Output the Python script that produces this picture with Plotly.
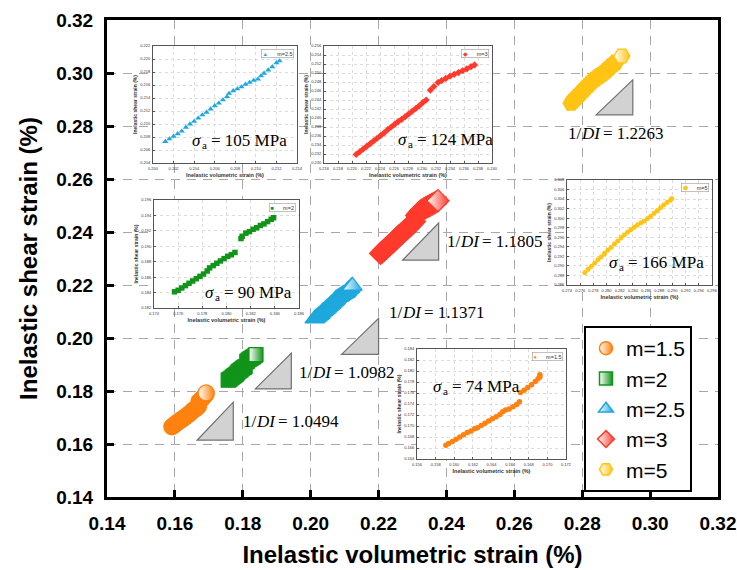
import plotly.graph_objects as go

# ---------------- data ----------------
names = ["m=1.5", "m=2", "m=2.5", "m=3", "m=5"]

x_m15 = [0.1591, 0.1594, 0.1598, 0.1602, 0.1606, 0.1610, 0.1614, 0.1618, 0.1622, 0.1625,
         0.1629, 0.1633, 0.1637, 0.1641, 0.1645, 0.1649, 0.1652, 0.1655, 0.1659, 0.1663,
         0.1667, 0.1670, 0.1671, 0.1675, 0.1679, 0.1683, 0.1687, 0.1690, 0.1692, 0.1692]
y_m15 = [0.1665, 0.1668, 0.1672, 0.1676, 0.1680, 0.1684, 0.1688, 0.1691, 0.1695, 0.1697,
         0.1701, 0.1705, 0.1709, 0.1713, 0.1717, 0.1721, 0.1726, 0.1729, 0.1731, 0.1735,
         0.1739, 0.1744, 0.1761, 0.1765, 0.1770, 0.1775, 0.1781, 0.1786, 0.1789, 0.1793]

x_m2 = [0.1757, 0.1760, 0.1763, 0.1766, 0.1769, 0.1772, 0.1775, 0.1778, 0.1781, 0.1784,
        0.1786, 0.1789, 0.1792, 0.1795, 0.1798, 0.1801, 0.1804, 0.1807, 0.1812, 0.1813,
        0.1816, 0.1819, 0.1822, 0.1825, 0.1828, 0.1831, 0.1834, 0.1837, 0.1839]
y_m2 = [0.1841, 0.1843, 0.1846, 0.1849, 0.1852, 0.1855, 0.1858, 0.1861, 0.1864, 0.1868,
        0.1872, 0.1875, 0.1878, 0.1881, 0.1884, 0.1887, 0.1889, 0.1892, 0.1910, 0.1913,
        0.1917, 0.1919, 0.1922, 0.1924, 0.1927, 0.1929, 0.1932, 0.1935, 0.1937]

x_m25 = [0.2012, 0.2016, 0.2020, 0.2024, 0.2028, 0.2032, 0.2036, 0.2040, 0.2044, 0.2048,
         0.2052, 0.2056, 0.2060, 0.2064, 0.2068, 0.2072, 0.2074, 0.2078, 0.2082, 0.2086,
         0.2090, 0.2094, 0.2098, 0.2102, 0.2105, 0.2108, 0.2112, 0.2116, 0.2120, 0.2123]
y_m25 = [0.2073, 0.2077, 0.2081, 0.2085, 0.2089, 0.2095, 0.2100, 0.2104, 0.2109, 0.2114,
         0.2118, 0.2123, 0.2128, 0.2132, 0.2137, 0.2142, 0.2147, 0.2151, 0.2154, 0.2157,
         0.2161, 0.2164, 0.2167, 0.2169, 0.2174, 0.2178, 0.2183, 0.2188, 0.2194, 0.2197]

x_m3 = [0.2206, 0.2211, 0.2216, 0.2221, 0.2226, 0.2231, 0.2236, 0.2241, 0.2246, 0.2251,
        0.2256, 0.2261, 0.2266, 0.2271, 0.2276, 0.2281, 0.2286, 0.2291, 0.2296, 0.2301,
        0.2306, 0.2312, 0.2317, 0.2323, 0.2328, 0.2334, 0.2340, 0.2346, 0.2352, 0.2358,
        0.2364, 0.2370, 0.2375]
y_m3 = [0.2319, 0.2325, 0.2331, 0.2337, 0.2343, 0.2349, 0.2355, 0.2361, 0.2367, 0.2374,
        0.2380, 0.2386, 0.2392, 0.2397, 0.2403, 0.2409, 0.2415, 0.2421, 0.2427, 0.2434,
        0.2440, 0.2462, 0.2470, 0.2479, 0.2483, 0.2488, 0.2493, 0.2497, 0.2501, 0.2505,
        0.2509, 0.2514, 0.2518]

x_m5 = [0.2767, 0.2772, 0.2777, 0.2782, 0.2787, 0.2792, 0.2797, 0.2802, 0.2807, 0.2812,
        0.2817, 0.2822, 0.2827, 0.2832, 0.2837, 0.2842, 0.2847, 0.2852, 0.2857, 0.2862,
        0.2867, 0.2872, 0.2877, 0.2882, 0.2887, 0.2892, 0.2897, 0.2899, 0.2917]
y_m5 = [0.2886, 0.2893, 0.2899, 0.2906, 0.2913, 0.2919, 0.2926, 0.2933, 0.2939, 0.2946,
        0.2952, 0.2959, 0.2965, 0.2971, 0.2976, 0.2981, 0.2986, 0.2990, 0.2994, 0.2999,
        0.3004, 0.3010, 0.3016, 0.3022, 0.3028, 0.3033, 0.3038, 0.3041, 0.3064]

di_values = ["1.0494", "1.0982", "1.1371", "1.1805", "1.2263"]
sigma_values = ["74", "90", "105", "124", "166"]

main_ticks = [0.14, 0.16, 0.18, 0.20, 0.22, 0.24, 0.26, 0.28, 0.30, 0.32]

# inset axis ranges
inset_x_ranges = [[0.156, 0.172], [0.174, 0.186], [0.200, 0.214], [0.216, 0.240], [0.274, 0.296]]
inset_y_ranges = [[0.164, 0.184], [0.182, 0.196], [0.204, 0.222], [0.230, 0.256], [0.286, 0.308]]

# slope triangles (bottom-left x, right x) and (bottom y, top y), data units
tri_x = [[0.1666, 0.1772], [0.1837, 0.1943], [0.2091, 0.2200], [0.2271, 0.2377], [0.2841, 0.2949]]
tri_y = [[0.1615, 0.1758], [0.1808, 0.1943], [0.1938, 0.2074], [0.2294, 0.2434], [0.2842, 0.2974]]

# ---------------- styles ----------------
colors = ["#FF8210", "#12941A", "#1EA8DD", "#FF3A2C", "#FFC414"]
symbols = ["circle", "square", "triangle-up", "diamond", "hexagon2"]
glyphs = ["●", "■", "▲", "◆", "⬢"]
main_sizes = [16, 14, 17, 17, 16]
xs = [x_m15, x_m2, x_m25, x_m3, x_m5]
ys = [y_m15, y_m2, y_m25, y_m3, y_m5]

W, H = 737, 570
L, R, T, B = 107, 718, 20, 497


def fx(p):
    return (p - L) / (R - L)


def fy(p):
    return (B - p) / (B - T)


# pixel boxes: inset frames and their white backgrounds (x0, x1, y_top, y_bottom)
inset_frames = [(417, 566, 349, 459), (154, 299, 200, 308), (153, 297, 46, 163),
                (324, 492, 46, 163), (567, 712, 180, 285)]
inset_bgs = [(400, 574, 340, 477), (122, 304, 192, 327), (122, 304, 40, 179),
             (306, 499, 40, 179), (540, 716, 168, 302)]
sigma_pos = [(432, 386), (204, 292), (191, 140), (397, 139), (608, 262)]
di_pos = [(242, 421), (298, 372), (388, 313), (446, 241), (567, 133)]

fig = go.Figure()

# main bands
for i in range(5):
    n = len(xs[i])
    fig.add_trace(go.Scatter(
        x=xs[i], y=ys[i], mode="markers", showlegend=False, hoverinfo="skip",
        marker=dict(symbol=symbols[i], size=main_sizes[i],
                    color=[colors[i]] * (n - 1) + ["white"],
                    gradient=dict(type=["none"] * (n - 1) + ["horizontal"], color=colors[i]),
                    line=dict(color=colors[i], width=1.2)),
        xaxis="x", yaxis="y"))

# main legend entries
for i in range(5):
    fig.add_trace(go.Scatter(
        x=[None], y=[None], mode="markers", name=names[i],
        marker=dict(symbol=symbols[i], size=13, color="white",
                    gradient=dict(type="horizontal", color=colors[i]),
                    line=dict(color=colors[i], width=1.5)),
        xaxis="x", yaxis="y"))

# inset traces (axes 7..11)
for i in range(5):
    k = 7 + i
    fig.add_trace(go.Scatter(
        x=xs[i], y=ys[i], mode="markers", name=names[i], showlegend=False,
        marker=dict(symbol=symbols[i], size=5.5, color=colors[i], line=dict(width=0)),
        xaxis="x%d" % k, yaxis="y%d" % k, hoverinfo="skip"))

axis_font = dict(family="Arial, Liberation Sans", size=19, color="black", weight="bold")
title_font = dict(family="Arial, Liberation Sans", size=24, color="black", weight="bold")
layout = dict(
    width=W, height=H,
    margin=dict(l=L, r=W - R, t=T, b=H - B, pad=0),
    paper_bgcolor="white", plot_bgcolor="white",
    xaxis=dict(range=[0.14, 0.32], tickvals=main_ticks, tickformat=".2f",
               showline=True, mirror=True, linecolor="black", linewidth=3,
               ticks="inside", ticklen=7, tickwidth=2.5, tickcolor="black",
               showgrid=True, gridcolor="#A8A8A8", gridwidth=1.3, griddash="9px,7px",
               zeroline=False, tickfont=axis_font, ticklabelstandoff=7,
               title=dict(text="Inelastic volumetric strain (%)", standoff=14, font=title_font),
               automargin=False, domain=[0, 1], anchor="y"),
    yaxis=dict(range=[0.14, 0.32], tickvals=main_ticks, tickformat=".2f",
               showline=True, mirror=True, linecolor="black", linewidth=3,
               ticks="inside", ticklen=7, tickwidth=2.5, tickcolor="black",
               showgrid=True, gridcolor="#A8A8A8", gridwidth=1.3, griddash="9px,7px",
               zeroline=False, tickfont=axis_font, ticklabelstandoff=7,
               title=dict(text="Inelastic shear strain (%)", standoff=12, font=title_font),
               automargin=False, domain=[0, 1], anchor="x"),
    legend=dict(x=fx(584), y=fy(326), xanchor="left", yanchor="top",
                bgcolor="white", bordercolor="black", borderwidth=2,
                font=dict(family="Arial, Liberation Sans", size=21, color="black"),
                itemwidth=30, tracegroupgap=0),
    showlegend=True,
)

# white background subplots (2..6) under the insets (7..11)
blank = dict(showline=False, showgrid=False, zeroline=False, showticklabels=False, ticks="",
             range=[0, 1], fixedrange=True, automargin=False)
for i in range(5):
    b = inset_bgs[i]
    kb = 2 + i
    layout["xaxis%d" % kb] = dict(blank, domain=[fx(b[0]), fx(b[1])], anchor="y%d" % kb)
    layout["yaxis%d" % kb] = dict(blank, domain=[fy(b[3]), fy(b[2])], anchor="x%d" % kb)

small_font = dict(family="Arial, Liberation Sans", size=4, color="#333333")
for i in range(5):
    f = inset_frames[i]
    k = 7 + i
    common = dict(showline=True, mirror=True, linecolor="#555555", linewidth=0.8,
                  showgrid=True, gridcolor="#DCDCDC", gridwidth=0.6, griddash="dot",
                  ticks="inside", ticklen=2, tickwidth=0.6, tickcolor="#555555",
                  tickfont=small_font, tickformat=".3f", dtick=0.002, zeroline=False,
                  automargin=False, tickangle=0, ticklabelstandoff=1)
    layout["xaxis%d" % k] = dict(common, domain=[fx(f[0]), fx(f[1])], anchor="y%d" % k,
                                 range=inset_x_ranges[i], tick0=inset_x_ranges[i][0],
                                 title=dict(text="Inelastic volumetric strain (%)", standoff=3,
                                            font=dict(family="Arial, Liberation Sans", size=5.5,
                                                      color="#333333", weight="bold")))
    layout["yaxis%d" % k] = dict(common, domain=[fy(f[3]), fy(f[2])], anchor="x%d" % k,
                                 range=inset_y_ranges[i], tick0=inset_y_ranges[i][0],
                                 title=dict(text="Inelastic shear strain (%)", standoff=2,
                                            font=dict(family="Arial, Liberation Sans", size=5,
                                                      color="#333333", weight="bold")))

fig.update_layout(**layout)

# inset legends as small boxed labels
for i in range(5):
    f = inset_frames[i]
    fig.add_annotation(x=fx(f[1] - 3), y=fy(f[2] + 3), xref="paper", yref="paper",
                       xanchor="right", yanchor="top", showarrow=False,
                       text="<span style='color:%s'>%s</span>      %s" % (colors[i], glyphs[i], names[i]),
                       font=dict(family="Arial, Liberation Sans", size=5.5, color="#333333"),
                       bgcolor="white", bordercolor="#999999", borderwidth=0.6, borderpad=1)

# slope triangles
for i in range(5):
    x0, x1 = tri_x[i]
    y0, y1 = tri_y[i]
    fig.add_shape(type="path", xref="x", yref="y", layer="above",
                  path="M %f %f L %f %f L %f %f Z" % (x0, y0, x1, y1, x1, y0),
                  fillcolor="#D2D2D2", line=dict(color="#707070", width=1.2))

serif = "Liberation Serif, Times New Roman, serif"


def place(pieces, x_px, y_px):
    # pieces: (text, advance_em, size, style, dy_px)
    for text, adv, size, style, dy in pieces:
        fig.add_annotation(x=fx(x_px), y=fy(y_px + dy), xref="paper", yref="paper",
                           xanchor="left", yanchor="middle", showarrow=False, text=text,
                           borderpad=0,
                           font=dict(family=serif, size=size, color="black", style=style))
        x_px += adv * size


FS = 17
for i in range(5):
    px_, py_ = di_pos[i]
    place([("1/", 0.74, FS, "normal", 0),
           ("DI", 1.31, FS, "italic", 0),
           ("= " + di_values[i], 0, FS, "normal", 0)], px_, py_)
    sx, sy = sigma_pos[i]
    place([("σ", 0.56, FS, "italic", 0),
           ("a", 0.85, 11, "normal", 5),
           ("= " + sigma_values[i] + " MPa", 0, FS, "normal", 0)], sx, sy)

fig.write_html("out.html")
